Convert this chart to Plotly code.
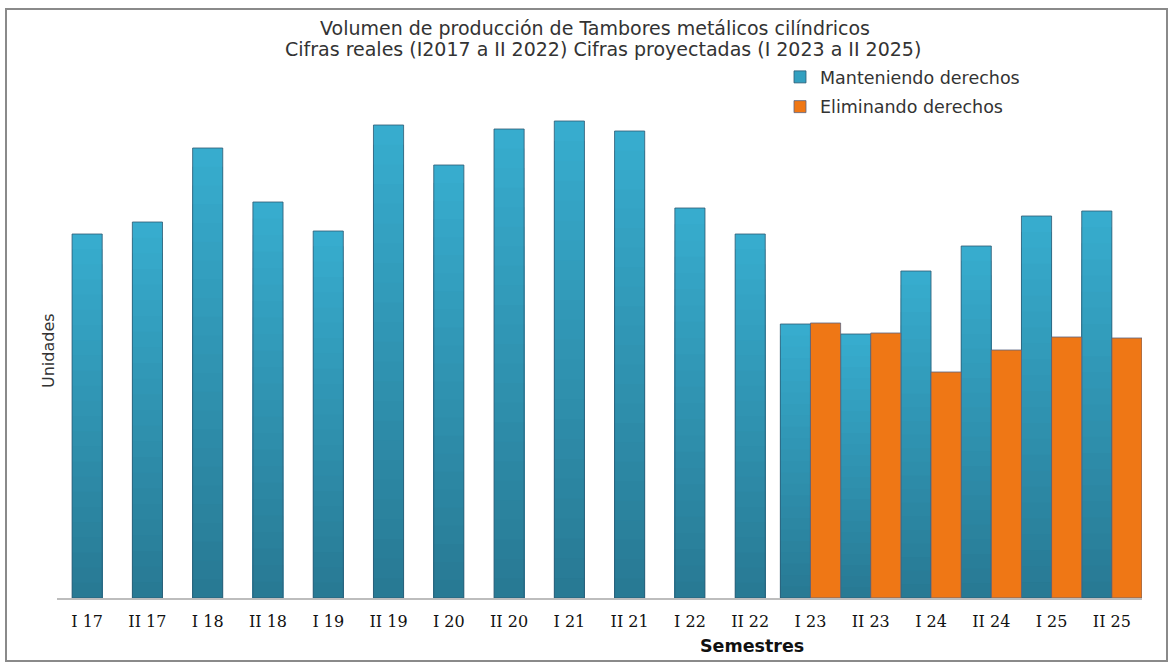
import plotly.graph_objects as go

categories = ["I 17", "II 17", "I 18", "II 18", "I 19", "II 19", "I 20", "II 20", "I 21",
              "II 21", "I 22", "II 22", "I 23", "II 23", "I 24", "II 24", "I 25", "II 25"]
manteniendo = [364, 376, 450, 396, 367, 473, 433, 469, 477, 467, 390, 364,
               274, 264, 327, 352, 382, 387]
eliminando = [None] * 12 + [275, 265, 226, 248, 261, 260]

title_line1 = "Volumen de producción de Tambores metálicos cilíndricos"
title_line2 = "Cifras reales (I2017 a II 2022) Cifras proyectadas (I 2023 a II 2025)"

n_real = 12
blue_offset = [-0.25] * n_real + [-0.5] * (len(categories) - n_real)
orange_offset = [0.0] * len(categories)
bar_w = 0.5

# plot-area geometry (pixels)
L, R, T, B = 57, 1142, 100, 598
W, H = 1172, 662


def px(x):
    return (x - L) / (R - L)


def py(y):
    return (B - y) / (B - T)


fig = go.Figure()

# blue series with a vertical shading (light top -> dark bottom)
top_rgb = (55, 172, 206)
bot_rgb = (40, 122, 148)
n_layers = 24
for k in range(n_layers):
    frac = 1 - k / n_layers
    t = k / (n_layers - 1)
    c = tuple(int(round(top_rgb[i] + (bot_rgb[i] - top_rgb[i]) * t)) for i in range(3))
    fig.add_trace(go.Bar(
        x=categories, y=[v * frac for v in manteniendo],
        offset=blue_offset, width=bar_w,
        marker=dict(color="rgb(%d,%d,%d)" % c, line=dict(width=0)),
        showlegend=False, hoverinfo="skip",
    ))
fig.add_trace(go.Bar(
    x=categories, y=manteniendo, name="Manteniendo derechos",
    offset=blue_offset, width=bar_w,
    marker=dict(color="rgba(0,0,0,0)", line=dict(color="rgba(45,90,115,0.8)", width=1)),
    legendgroup="a", showlegend=False,
))
fig.add_trace(go.Bar(
    x=categories, y=eliminando, name="Eliminando derechos",
    offset=orange_offset, width=bar_w,
    marker=dict(color="#ef7715", line=dict(color="rgba(90,100,130,0.8)", width=1)),
    legendgroup="b",
))
# legend entry for blue
fig.add_trace(go.Bar(
    x=[categories[0]], y=[None], name="Manteniendo derechos",
    marker=dict(color="#33a0c0", line=dict(color="rgba(45,90,115,0.8)", width=1)),
    legendgroup="a", legendrank=1,
))

sans = "DejaVu Sans, Verdana, sans-serif"

fig.update_layout(
    width=W, height=H,
    margin=dict(l=L, r=W - R, t=T, b=H - B, autoexpand=False),
    paper_bgcolor="white", plot_bgcolor="white",
    barmode="overlay",
    legend=dict(
        x=px(780), y=py(59), xanchor="left", yanchor="top",
        font=dict(family=sans, size=17.5, color="#333333"),
        bgcolor="rgba(0,0,0,0)", traceorder="grouped", tracegroupgap=4,
    ),
    xaxis=dict(
        type="category", showgrid=False, ticks="",
        showline=True, linecolor="#bdbdbd", linewidth=2,
        ticklabelstandoff=8,
        tickfont=dict(family="DejaVu Serif, Liberation Serif, serif", size=16, color="#111111"),
    ),
    yaxis=dict(
        range=[0, B - T], showgrid=False, showticklabels=False, ticks="",
        showline=False, zeroline=False,
    ),
    annotations=[
        dict(text=title_line1, xref="paper", yref="paper", x=px(595), y=py(28),
             xanchor="center", yanchor="middle", showarrow=False,
             font=dict(family=sans, size=19, color="#333333")),
        dict(text=title_line2, xref="paper", yref="paper", x=px(603), y=py(49),
             xanchor="center", yanchor="middle", showarrow=False,
             font=dict(family=sans, size=19, color="#333333")),
        dict(text="<b>Semestres</b>", xref="paper", yref="paper", x=px(752), y=py(646),
             xanchor="center", yanchor="middle", showarrow=False,
             font=dict(family=sans, size=17.5, color="#111111")),
        dict(text="Unidades", xref="paper", yref="paper", x=px(48), y=py(351),
             xanchor="center", yanchor="middle", showarrow=False, textangle=-90,
             font=dict(family=sans, size=16, color="#333333")),
    ],
    shapes=[dict(
        type="rect", xref="paper", yref="paper",
        x0=px(6), x1=px(1167), y0=py(661), y1=py(9),
        line=dict(color="#8a8a8a", width=2), fillcolor="rgba(0,0,0,0)", layer="below",
    )],
)

fig.write_html("out.html", config={"displayModeBar": False},
               post_script="document.body.style.margin='0';")
